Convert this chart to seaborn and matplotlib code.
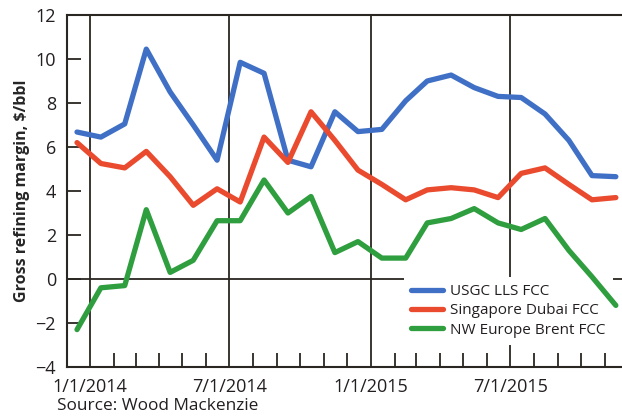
import matplotlib
matplotlib.use("Agg")
import matplotlib.pyplot as plt
import matplotlib.dates as mdates
import numpy as np
import pandas as pd
import seaborn as sns

# ---- data ----
months = pd.date_range("2013-12-01", periods=24, freq="MS") + pd.Timedelta(days=14)
usgc = [6.68, 6.45, 7.05, 10.45, 8.5, 7.0, 5.4, 9.85, 9.35, 5.4, 5.1, 7.6,
        6.7, 6.8, 8.1, 9.0, 9.27, 8.7, 8.3, 8.25, 7.5, 6.3, 4.7, 4.65]
singapore = [6.2, 5.25, 5.05, 5.8, 4.65, 3.35, 4.1, 3.5, 6.45, 5.3, 7.6, 6.3,
             4.95, 4.3, 3.6, 4.05, 4.15, 4.05, 3.7, 4.8, 5.05, 4.3, 3.6, 3.7]
nweurope = [-2.3, -0.4, -0.3, 3.15, 0.3, 0.85, 2.65, 2.65, 4.5, 3.0, 3.75, 1.2,
            1.7, 0.95, 0.95, 2.55, 2.75, 3.2, 2.55, 2.25, 2.75, 1.3, 0.1, -1.2]
series_names = ["USGC LLS FCC", "Singapore Dubai FCC", "NW Europe Brent FCC"]
colors = ["#3f70c6", "#ea4a2e", "#2f9e3f"]
yticks = [-4, -2, 0, 2, 4, 6, 8, 10, 12]
xtick_dates = ["2014-01-01", "2014-07-01", "2015-01-01", "2015-07-01"]
xtick_labels = ["1/1/2014", "7/1/2014", "1/1/2015", "7/1/2015"]

df = pd.concat([
    pd.DataFrame({"date": months, "value": v, "series": n})
    for v, n in zip([usgc, singapore, nweurope], series_names)
])

sns.set_style("white")
plt.rcParams["font.family"] = ["Open Sans", "DejaVu Sans"]
plt.rcParams["text.color"] = "#231f20"

fig = plt.figure(figsize=(6.22, 4.19), dpi=100)
ax = fig.add_axes([67/622, 1-367/419, 555/622, 352/419])

ink = "#2a2622"
for xd in xtick_dates:
    ax.axvline(pd.Timestamp(xd), color=ink, lw=1.3, zorder=1)
ax.axhline(0, color=ink, lw=1.3, zorder=1)

sns.lineplot(data=df, x="date", y="value", hue="series", hue_order=series_names,
             palette=colors, lw=3.8, ax=ax, zorder=3, legend=True)

ax.set_xlim(pd.Timestamp("2013-12-02"), pd.Timestamp("2015-11-23"))
ax.set_ylim(-4, 12)
ax.set_yticks(yticks)
ax.set_yticklabels(["\u2212" + str(-t) if t < 0 else str(t) for t in yticks])
ax.set_xticks([pd.Timestamp(d) for d in xtick_dates])
ax.set_xticklabels(xtick_labels)
ax.xaxis.set_minor_locator(mdates.MonthLocator())
ax.tick_params(axis="x", which="major", length=0, pad=8, labelsize=13, colors="#231f20")
ax.tick_params(axis="x", which="minor", direction="in", length=10, width=1.3, color=ink, bottom=True)
ax.tick_params(axis="y", which="major", direction="in", length=10, width=1.3, color=ink,
               pad=8, labelsize=13, left=True, labelcolor="#231f20")

for s in ["left", "top", "bottom"]:
    ax.spines[s].set_color(ink)
    ax.spines[s].set_linewidth(1.5)
ax.spines["right"].set_visible(False)

ax.set_xlabel("")
ax.set_ylabel("Gross refining margin, $/bbl", fontsize=11.5, fontweight="bold", labelpad=4)

leg = ax.legend(loc="upper left", bbox_to_anchor=(0.607, 0.255), borderaxespad=0,
                frameon=True, fontsize=11, handlelength=2.1, handletextpad=0.5,
                labelspacing=0.28, borderpad=0.45)
leg.get_frame().set_facecolor("white")
leg.get_frame().set_edgecolor("none")
leg.get_frame().set_alpha(1)
leg.get_frame().set_boxstyle("square", pad=0)
leg.set_zorder(2)

fig.text(57/622, 1-406/419, "Source: Wood Mackenzie", fontsize=12.4, ha="left", va="center",
         color="#231f20")

fig.savefig("out.png", dpi=100)
